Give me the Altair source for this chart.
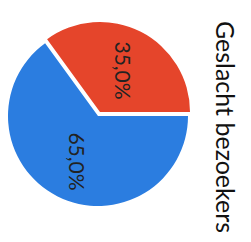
import altair as alt
import pandas as pd
import math

categories = ["Man", "Vrouw"]
values = [65.0, 35.0]
label_texts = ["65,0%", "35,0%"]
colors = ["#2B7DE0", "#E5452B"]
title_text = "Geslacht bezoekers"

df = pd.DataFrame({"cat": categories, "value": values, "label": label_texts})
df["end"] = df["value"].cumsum()
df["start"] = df["end"] - df["value"]
df["mid"] = (df["start"] + df["end"]) / 2

theta_scale = alt.Scale(domain=[0, 100], range=[math.pi / 2, math.pi / 2 + 2 * math.pi])
color_scale = alt.Scale(domain=categories, range=colors)

base = alt.Chart(df)

CX, CY, R = 90, 108, 90

blue = base.transform_filter(alt.datum.cat == "Man").mark_arc(radius=R).encode(
    theta=alt.Theta("start:Q", scale=theta_scale),
    theta2="end:Q",
    color=alt.Color("cat:N", scale=color_scale, legend=None),
    x=alt.value(CX), y=alt.value(CY),
)
red = base.transform_filter(alt.datum.cat == "Vrouw").mark_arc(radius=R).encode(
    theta=alt.Theta("start:Q", scale=theta_scale),
    theta2="end:Q",
    color=alt.Color("cat:N", scale=color_scale, legend=None),
    x=alt.value(CX + 2), y=alt.value(CY - 4),
)
labels = base.mark_text(angle=90, font="Lato", fontSize=21, color="#222222", radius=51).encode(
    theta=alt.Theta("mid:Q", scale=theta_scale),
    text="label:N",
    x=alt.value(CX), y=alt.value(CY),
)
title = alt.Chart(pd.DataFrame({"t": [title_text]})).mark_text(
    angle=90, font="Lato", fontSize=25, color="#111111"
).encode(text="t:N", x=alt.value(216), y=alt.value(119))

chart = alt.layer(blue, red, labels, title).properties(
    width=235, height=226, padding=0, autosize=alt.AutoSizeParams(type="none")
).configure_view(stroke=None)

chart.save("out.html", embed_options={"renderer": "svg", "actions": False})
